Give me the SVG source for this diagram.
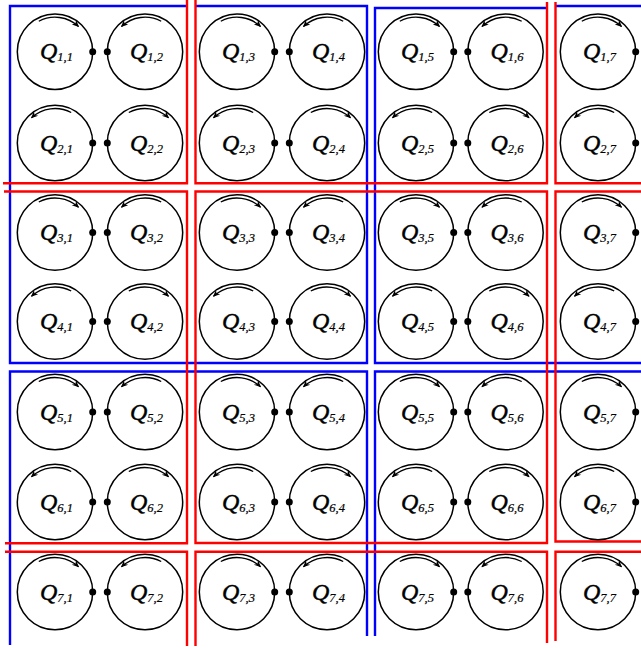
<svg xmlns="http://www.w3.org/2000/svg" xmlns:xlink="http://www.w3.org/1999/xlink" width="641" height="648" viewBox="0 0 641 648">
<style>
.c{fill:none;stroke:#000;stroke-width:1.5}
.d{fill:#000}
.arc{fill:none;stroke:#000;stroke-width:1.3;marker-end:url(#ah)}
.t{font-family:"Liberation Serif","DejaVu Serif",serif;font-style:italic;font-size:24px;text-anchor:middle;fill:#000;stroke:#000;stroke-width:0.45}
.s{font-size:12.5px;stroke-width:0.2}
.b{fill:none;stroke:#0000ff;stroke-width:2.4}
.r{fill:none;stroke:#ff0000;stroke-width:2.4}
</style>
<defs>
<marker id="ah" viewBox="0 0 10 10" refX="9" refY="5" markerWidth="9" markerHeight="7" markerUnits="userSpaceOnUse" orient="auto"><path d="M0,0.5 L10,5 L0,9.5 L3,5 Z" fill="#000"/></marker>
<path id="aR" class="arc" d="M-16.2,-30.46 A34.5,34.5 0 0 1 23.53,-25.23"/>
<path id="aL" class="arc" d="M16.2,-30.46 A34.5,34.5 0 0 0 -23.53,-25.23"/>
</defs>
<rect width="641" height="648" fill="#fff"/>
<g id="blue-boxes">
<path class="b" d="M186,6 H10 V363 H367 V6 H196"/>
<path class="b" d="M547,8 H375 V363 H641"/>
<path class="b" d="M556,6 H641"/>
<path class="b" d="M10,645 V371.5 H367 V636"/>
<path class="b" d="M375,636 V371.5 H641"/>
</g>
<g id="red-boxes">
<path class="r" d="M3,183.3 H187 V0"/>
<path class="r" d="M195.5,0 V183.3 H547 V2"/>
<path class="r" d="M555.5,2 V183.3 H641"/>
<path class="r" d="M4,191.5 H187 V543.3 H5"/>
<path class="r" d="M195.5,191.5 H547 V543 H195.5 Z"/>
<path class="r" d="M641,191.5 H555.5 V541.5 H641"/>
<path class="r" d="M5,551.7 H187 V646"/>
<path class="r" d="M195.5,646 V551.7 H547 V643"/>
<path class="r" d="M555.5,641 V551.7 H641"/>
</g>
<g id="nodes">
<g id="q-1-1" transform="translate(55,51.7)"><circle class="c" r="37.7"/><use href="#aR"/><circle class="d" cx="37.7" r="3.5"/><text class="t" x="1.5" y="7.5">Q<tspan class="s" dy="2">1,1</tspan></text></g>
<g id="q-1-2" transform="translate(145,51.7)"><circle class="c" r="37.7"/><use href="#aL"/><circle class="d" cx="-37.7" r="3.5"/><text class="t" x="1.5" y="7.5">Q<tspan class="s" dy="2">1,2</tspan></text></g>
<g id="q-1-3" transform="translate(237,51.7)"><circle class="c" r="37.7"/><use href="#aR"/><circle class="d" cx="37.7" r="3.5"/><text class="t" x="1.5" y="7.5">Q<tspan class="s" dy="2">1,3</tspan></text></g>
<g id="q-1-4" transform="translate(327,51.7)"><circle class="c" r="37.7"/><use href="#aL"/><circle class="d" cx="-37.7" r="3.5"/><text class="t" x="1.5" y="7.5">Q<tspan class="s" dy="2">1,4</tspan></text></g>
<g id="q-1-5" transform="translate(416,51.7)"><circle class="c" r="37.7"/><use href="#aR"/><circle class="d" cx="37.7" r="3.5"/><text class="t" x="1.5" y="7.5">Q<tspan class="s" dy="2">1,5</tspan></text></g>
<g id="q-1-6" transform="translate(505.5,51.7)"><circle class="c" r="37.7"/><use href="#aL"/><circle class="d" cx="-37.7" r="3.5"/><text class="t" x="1.5" y="7.5">Q<tspan class="s" dy="2">1,6</tspan></text></g>
<g id="q-1-7" transform="translate(598,51.7)"><circle class="c" r="37.7"/><use href="#aR"/><circle class="d" cx="37.7" r="3.5"/><text class="t" x="1.5" y="7.5">Q<tspan class="s" dy="2">1,7</tspan></text></g>

<g id="q-2-1" transform="translate(55,143)"><circle class="c" r="37.7"/><use href="#aL"/><circle class="d" cx="37.7" r="3.5"/><text class="t" x="1.5" y="7.5">Q<tspan class="s" dy="2">2,1</tspan></text></g>
<g id="q-2-2" transform="translate(145,143)"><circle class="c" r="37.7"/><use href="#aR"/><circle class="d" cx="-37.7" r="3.5"/><text class="t" x="1.5" y="7.5">Q<tspan class="s" dy="2">2,2</tspan></text></g>
<g id="q-2-3" transform="translate(237,143)"><circle class="c" r="37.7"/><use href="#aL"/><circle class="d" cx="37.7" r="3.5"/><text class="t" x="1.5" y="7.5">Q<tspan class="s" dy="2">2,3</tspan></text></g>
<g id="q-2-4" transform="translate(327,143)"><circle class="c" r="37.7"/><use href="#aR"/><circle class="d" cx="-37.7" r="3.5"/><text class="t" x="1.5" y="7.5">Q<tspan class="s" dy="2">2,4</tspan></text></g>
<g id="q-2-5" transform="translate(416,143)"><circle class="c" r="37.7"/><use href="#aL"/><circle class="d" cx="37.7" r="3.5"/><text class="t" x="1.5" y="7.5">Q<tspan class="s" dy="2">2,5</tspan></text></g>
<g id="q-2-6" transform="translate(505.5,143)"><circle class="c" r="37.7"/><use href="#aR"/><circle class="d" cx="-37.7" r="3.5"/><text class="t" x="1.5" y="7.5">Q<tspan class="s" dy="2">2,6</tspan></text></g>
<g id="q-2-7" transform="translate(598,143)"><circle class="c" r="37.7"/><use href="#aL"/><circle class="d" cx="37.7" r="3.5"/><text class="t" x="1.5" y="7.5">Q<tspan class="s" dy="2">2,7</tspan></text></g>

<g id="q-3-1" transform="translate(55,232.5)"><circle class="c" r="37.7"/><use href="#aR"/><circle class="d" cx="37.7" r="3.5"/><text class="t" x="1.5" y="7.5">Q<tspan class="s" dy="2">3,1</tspan></text></g>
<g id="q-3-2" transform="translate(145,232.5)"><circle class="c" r="37.7"/><use href="#aL"/><circle class="d" cx="-37.7" r="3.5"/><text class="t" x="1.5" y="7.5">Q<tspan class="s" dy="2">3,2</tspan></text></g>
<g id="q-3-3" transform="translate(237,232.5)"><circle class="c" r="37.7"/><use href="#aR"/><circle class="d" cx="37.7" r="3.5"/><text class="t" x="1.5" y="7.5">Q<tspan class="s" dy="2">3,3</tspan></text></g>
<g id="q-3-4" transform="translate(327,232.5)"><circle class="c" r="37.7"/><use href="#aL"/><circle class="d" cx="-37.7" r="3.5"/><text class="t" x="1.5" y="7.5">Q<tspan class="s" dy="2">3,4</tspan></text></g>
<g id="q-3-5" transform="translate(416,232.5)"><circle class="c" r="37.7"/><use href="#aR"/><circle class="d" cx="37.7" r="3.5"/><text class="t" x="1.5" y="7.5">Q<tspan class="s" dy="2">3,5</tspan></text></g>
<g id="q-3-6" transform="translate(505.5,232.5)"><circle class="c" r="37.7"/><use href="#aL"/><circle class="d" cx="-37.7" r="3.5"/><text class="t" x="1.5" y="7.5">Q<tspan class="s" dy="2">3,6</tspan></text></g>
<g id="q-3-7" transform="translate(598,232.5)"><circle class="c" r="37.7"/><use href="#aR"/><circle class="d" cx="37.7" r="3.5"/><text class="t" x="1.5" y="7.5">Q<tspan class="s" dy="2">3,7</tspan></text></g>

<g id="q-4-1" transform="translate(55,321.5)"><circle class="c" r="37.7"/><use href="#aL"/><circle class="d" cx="37.7" r="3.5"/><text class="t" x="1.5" y="7.5">Q<tspan class="s" dy="2">4,1</tspan></text></g>
<g id="q-4-2" transform="translate(145,321.5)"><circle class="c" r="37.7"/><use href="#aR"/><circle class="d" cx="-37.7" r="3.5"/><text class="t" x="1.5" y="7.5">Q<tspan class="s" dy="2">4,2</tspan></text></g>
<g id="q-4-3" transform="translate(237,321.5)"><circle class="c" r="37.7"/><use href="#aL"/><circle class="d" cx="37.7" r="3.5"/><text class="t" x="1.5" y="7.5">Q<tspan class="s" dy="2">4,3</tspan></text></g>
<g id="q-4-4" transform="translate(327,321.5)"><circle class="c" r="37.7"/><use href="#aR"/><circle class="d" cx="-37.7" r="3.5"/><text class="t" x="1.5" y="7.5">Q<tspan class="s" dy="2">4,4</tspan></text></g>
<g id="q-4-5" transform="translate(416,321.5)"><circle class="c" r="37.7"/><use href="#aL"/><circle class="d" cx="37.7" r="3.5"/><text class="t" x="1.5" y="7.5">Q<tspan class="s" dy="2">4,5</tspan></text></g>
<g id="q-4-6" transform="translate(505.5,321.5)"><circle class="c" r="37.7"/><use href="#aR"/><circle class="d" cx="-37.7" r="3.5"/><text class="t" x="1.5" y="7.5">Q<tspan class="s" dy="2">4,6</tspan></text></g>
<g id="q-4-7" transform="translate(598,321.5)"><circle class="c" r="37.7"/><use href="#aL"/><circle class="d" cx="37.7" r="3.5"/><text class="t" x="1.5" y="7.5">Q<tspan class="s" dy="2">4,7</tspan></text></g>

<g id="q-5-1" transform="translate(55,412)"><circle class="c" r="37.7"/><use href="#aR"/><circle class="d" cx="37.7" r="3.5"/><text class="t" x="1.5" y="7.5">Q<tspan class="s" dy="2">5,1</tspan></text></g>
<g id="q-5-2" transform="translate(145,412)"><circle class="c" r="37.7"/><use href="#aL"/><circle class="d" cx="-37.7" r="3.5"/><text class="t" x="1.5" y="7.5">Q<tspan class="s" dy="2">5,2</tspan></text></g>
<g id="q-5-3" transform="translate(237,412)"><circle class="c" r="37.7"/><use href="#aR"/><circle class="d" cx="37.7" r="3.5"/><text class="t" x="1.5" y="7.5">Q<tspan class="s" dy="2">5,3</tspan></text></g>
<g id="q-5-4" transform="translate(327,412)"><circle class="c" r="37.7"/><use href="#aL"/><circle class="d" cx="-37.7" r="3.5"/><text class="t" x="1.5" y="7.5">Q<tspan class="s" dy="2">5,4</tspan></text></g>
<g id="q-5-5" transform="translate(416,412)"><circle class="c" r="37.7"/><use href="#aR"/><circle class="d" cx="37.7" r="3.5"/><text class="t" x="1.5" y="7.5">Q<tspan class="s" dy="2">5,5</tspan></text></g>
<g id="q-5-6" transform="translate(505.5,412)"><circle class="c" r="37.7"/><use href="#aL"/><circle class="d" cx="-37.7" r="3.5"/><text class="t" x="1.5" y="7.5">Q<tspan class="s" dy="2">5,6</tspan></text></g>
<g id="q-5-7" transform="translate(598,412)"><circle class="c" r="37.7"/><use href="#aR"/><circle class="d" cx="37.7" r="3.5"/><text class="t" x="1.5" y="7.5">Q<tspan class="s" dy="2">5,7</tspan></text></g>

<g id="q-6-1" transform="translate(55,502)"><circle class="c" r="37.7"/><use href="#aL"/><circle class="d" cx="37.7" r="3.5"/><text class="t" x="1.5" y="7.5">Q<tspan class="s" dy="2">6,1</tspan></text></g>
<g id="q-6-2" transform="translate(145,502)"><circle class="c" r="37.7"/><use href="#aR"/><circle class="d" cx="-37.7" r="3.5"/><text class="t" x="1.5" y="7.5">Q<tspan class="s" dy="2">6,2</tspan></text></g>
<g id="q-6-3" transform="translate(237,502)"><circle class="c" r="37.7"/><use href="#aL"/><circle class="d" cx="37.7" r="3.5"/><text class="t" x="1.5" y="7.5">Q<tspan class="s" dy="2">6,3</tspan></text></g>
<g id="q-6-4" transform="translate(327,502)"><circle class="c" r="37.7"/><use href="#aR"/><circle class="d" cx="-37.7" r="3.5"/><text class="t" x="1.5" y="7.5">Q<tspan class="s" dy="2">6,4</tspan></text></g>
<g id="q-6-5" transform="translate(416,502)"><circle class="c" r="37.7"/><use href="#aL"/><circle class="d" cx="37.7" r="3.5"/><text class="t" x="1.5" y="7.5">Q<tspan class="s" dy="2">6,5</tspan></text></g>
<g id="q-6-6" transform="translate(505.5,502)"><circle class="c" r="37.7"/><use href="#aR"/><circle class="d" cx="-37.7" r="3.5"/><text class="t" x="1.5" y="7.5">Q<tspan class="s" dy="2">6,6</tspan></text></g>
<g id="q-6-7" transform="translate(598,502)"><circle class="c" r="37.7"/><use href="#aL"/><circle class="d" cx="37.7" r="3.5"/><text class="t" x="1.5" y="7.5">Q<tspan class="s" dy="2">6,7</tspan></text></g>

<g id="q-7-1" transform="translate(55,592)"><circle class="c" r="37.7"/><use href="#aR"/><circle class="d" cx="37.7" r="3.5"/><text class="t" x="1.5" y="7.5">Q<tspan class="s" dy="2">7,1</tspan></text></g>
<g id="q-7-2" transform="translate(145,592)"><circle class="c" r="37.7"/><use href="#aL"/><circle class="d" cx="-37.7" r="3.5"/><text class="t" x="1.5" y="7.5">Q<tspan class="s" dy="2">7,2</tspan></text></g>
<g id="q-7-3" transform="translate(237,592)"><circle class="c" r="37.7"/><use href="#aR"/><circle class="d" cx="37.7" r="3.5"/><text class="t" x="1.5" y="7.5">Q<tspan class="s" dy="2">7,3</tspan></text></g>
<g id="q-7-4" transform="translate(327,592)"><circle class="c" r="37.7"/><use href="#aL"/><circle class="d" cx="-37.7" r="3.5"/><text class="t" x="1.5" y="7.5">Q<tspan class="s" dy="2">7,4</tspan></text></g>
<g id="q-7-5" transform="translate(416,592)"><circle class="c" r="37.7"/><use href="#aR"/><circle class="d" cx="37.7" r="3.5"/><text class="t" x="1.5" y="7.5">Q<tspan class="s" dy="2">7,5</tspan></text></g>
<g id="q-7-6" transform="translate(505.5,592)"><circle class="c" r="37.7"/><use href="#aL"/><circle class="d" cx="-37.7" r="3.5"/><text class="t" x="1.5" y="7.5">Q<tspan class="s" dy="2">7,6</tspan></text></g>
<g id="q-7-7" transform="translate(598,592)"><circle class="c" r="37.7"/><use href="#aR"/><circle class="d" cx="37.7" r="3.5"/><text class="t" x="1.5" y="7.5">Q<tspan class="s" dy="2">7,7</tspan></text></g>
</g>
</svg>
